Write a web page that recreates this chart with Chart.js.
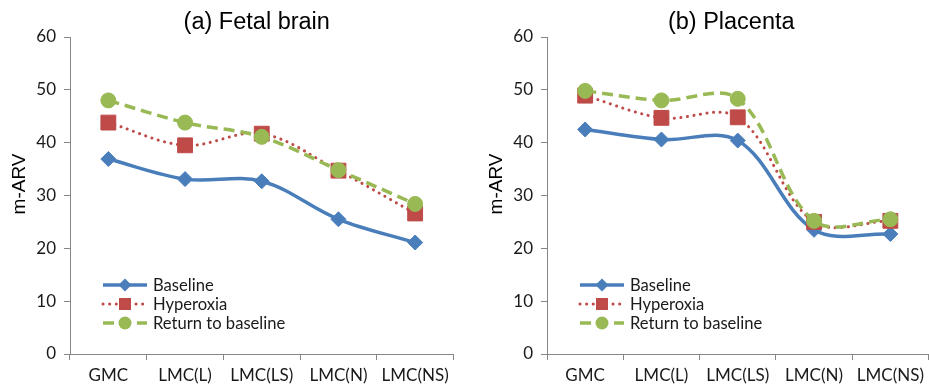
<!DOCTYPE html>
<html>
<head>
<meta charset="utf-8">
<script src="https://cdn.jsdelivr.net/npm/chart.js@4.4.0/dist/chart.umd.min.js"></script>
<style>
  html, body { margin: 0; padding: 0; overflow: hidden; background: #fff; }
  #wrap { position: relative; width: 929px; height: 388px; overflow: hidden; }
  canvas { position: absolute; top: 0; }
  #brain { left: 0; }
  #placenta { left: 465px; }
</style>
</head>
<body>
<div id="wrap">
  <canvas id="brain" width="465" height="388"></canvas>
  <canvas id="placenta" width="475" height="388"></canvas>
</div>
<script>
const categories = ["GMC", "LMC(L)", "LMC(LS)", "LMC(N)", "LMC(NS)"];
const yTicks = [0, 10, 20, 30, 40, 50, 60];
const seriesNames = ["Baseline", "Hyperoxia", "Return to baseline"];

// (a) Fetal brain
const brainBaseline = [36.9, 33.1, 32.7, 25.5, 21.1];
const brainHyperoxia = [43.8, 39.5, 41.7, 34.7, 26.6];
const brainReturn = [48.0, 43.8, 41.1, 34.8, 28.4];

// (b) Placenta
const placentaBaseline = [42.5, 40.6, 40.4, 23.5, 22.7];
const placentaHyperoxia = [48.9, 44.7, 44.8, 25.0, 25.2];
const placentaReturn = [49.8, 48.0, 48.3, 25.2, 25.5];

const BLUE = "#4A7EBB";
const RED = "#BE4B48";
const GREEN = "#98B954";
const AXIS = "#868686";

function drawMarker(ctx, style, x, y, r, color) {
  ctx.fillStyle = color;
  ctx.beginPath();
  if (style === "rectRot") {
    ctx.moveTo(x - r, y);
    ctx.lineTo(x, y - r);
    ctx.lineTo(x + r, y);
    ctx.lineTo(x, y + r);
    ctx.closePath();
  } else if (style === "rect") {
    ctx.rect(x - r, y - r, 2 * r, 2 * r);
  } else {
    ctx.arc(x, y, r, 0, Math.PI * 2);
  }
  ctx.fill();
}

// panel title, y-axis title and the in-plot legend
const panelText = {
  id: "panelText",
  afterDraw(chart, args, opts) {
    const ctx = chart.ctx;
    const area = chart.chartArea;
    ctx.save();
    ctx.fillStyle = "#000";
    ctx.textAlign = "center";
    ctx.textBaseline = "alphabetic";
    ctx.font = "23.5px 'Liberation Sans', Arial, sans-serif";
    ctx.fillText(opts.title, (area.left + area.right) / 2 + opts.titleShift, 29);

    ctx.save();
    ctx.translate(area.left - 45, 184);
    ctx.rotate(-Math.PI / 2);
    ctx.font = "19px 'Liberation Sans', Arial, sans-serif";
    ctx.fillText(opts.yLabel, 0, 0);
    ctx.restore();

    const legendMarkers = [6.5, 6, 6.5];
    chart.data.datasets.forEach((ds, i) => {
      const y = 285 + i * 19;
      const x0 = area.left + 33;
      const x1 = area.left + 77;
      ctx.save();
      ctx.strokeStyle = ds.borderColor;
      ctx.lineWidth = ds.borderWidth;
      ctx.lineCap = ds.borderCapStyle || "butt";
      ctx.setLineDash(ds.borderDash || []);
      ctx.beginPath();
      ctx.moveTo(x0, y);
      ctx.lineTo(x1, y);
      ctx.stroke();
      ctx.restore();
      drawMarker(ctx, ds.pointStyle, (x0 + x1) / 2, y, legendMarkers[i], ds.pointBackgroundColor);
      ctx.fillStyle = "#1a1a1a";
      ctx.textAlign = "left";
      ctx.textBaseline = "middle";
      ctx.font = "16.6px Lato, sans-serif";
      ctx.fillText(ds.label, area.left + 83, y + 1);
    });
    ctx.restore();
  }
};

function makeDatasets(base, hyper, ret) {
  return [
    {
      label: seriesNames[0],
      data: base,
      borderColor: BLUE,
      backgroundColor: BLUE,
      borderWidth: 3.5,
      pointStyle: "rectRot",
      pointRadius: 7.5,
      pointBackgroundColor: BLUE,
      pointBorderColor: BLUE,
      pointBorderWidth: 1,
      tension: 0.35,
      order: 3,
    },
    {
      label: seriesNames[1],
      data: hyper,
      borderColor: RED,
      backgroundColor: RED,
      borderWidth: 3,
      borderDash: [0.1, 6.5],
      borderCapStyle: "round",
      pointStyle: "rect",
      pointRadius: 10.5,
      pointBackgroundColor: RED,
      pointBorderColor: RED,
      pointBorderWidth: 1,
      tension: 0.35,
      order: 2,
    },
    {
      label: seriesNames[2],
      data: ret,
      borderColor: GREEN,
      backgroundColor: GREEN,
      borderWidth: 3.5,
      borderDash: [11, 6],
      pointStyle: "circle",
      pointRadius: 7.5,
      pointBackgroundColor: GREEN,
      pointBorderColor: GREEN,
      pointBorderWidth: 1,
      tension: 0.35,
      order: 1,
    },
  ];
}

function makeChart(id, title, titleShift, yAxisWidth, rightPad, datasets) {
  return new Chart(document.getElementById(id), {
    type: "line",
    data: { labels: categories, datasets: datasets },
    plugins: [panelText],
    options: {
      responsive: false,
      animation: false,
      events: [],
      layout: { padding: { top: 37, right: rightPad, bottom: 0, left: 0 } },
      plugins: {
        legend: { display: false },
        tooltip: { enabled: false },
        panelText: { title: title, titleShift: titleShift, yLabel: "m-ARV" },
      },
      scales: {
        x: {
          offset: true,
          afterFit(scale) { scale.height = 34; },
          grid: {
            offset: true,
            drawOnChartArea: false,
            drawTicks: true,
            tickLength: 6,
            color: AXIS,
          },
          border: { display: true, color: AXIS, width: 1 },
          ticks: {
            color: "#1a1a1a",
            padding: 5,
            maxRotation: 0,
            autoSkip: false,
            font: { family: "Lato", size: 17 },
          },
        },
        y: {
          min: 0,
          max: 60,
          afterFit(scale) { scale.width = yAxisWidth; },
          afterBuildTicks(scale) { scale.ticks = yTicks.map((v) => ({ value: v })); },
          grid: {
            drawOnChartArea: false,
            drawTicks: true,
            tickLength: 6,
            color: AXIS,
          },
          border: { display: true, color: AXIS, width: 1 },
          ticks: {
            color: "#1a1a1a",
            padding: 8,
            font: { family: "Lato", size: 17 },
          },
        },
      },
    },
  });
}

makeChart("brain", "(a) Fetal brain", -5, 70, 6,
  makeDatasets(brainBaseline, brainHyperoxia, brainReturn));
makeChart("placenta", "(b) Placenta", -6.5, 82, 4,
  makeDatasets(placentaBaseline, placentaHyperoxia, placentaReturn));
</script>
</body>
</html>
